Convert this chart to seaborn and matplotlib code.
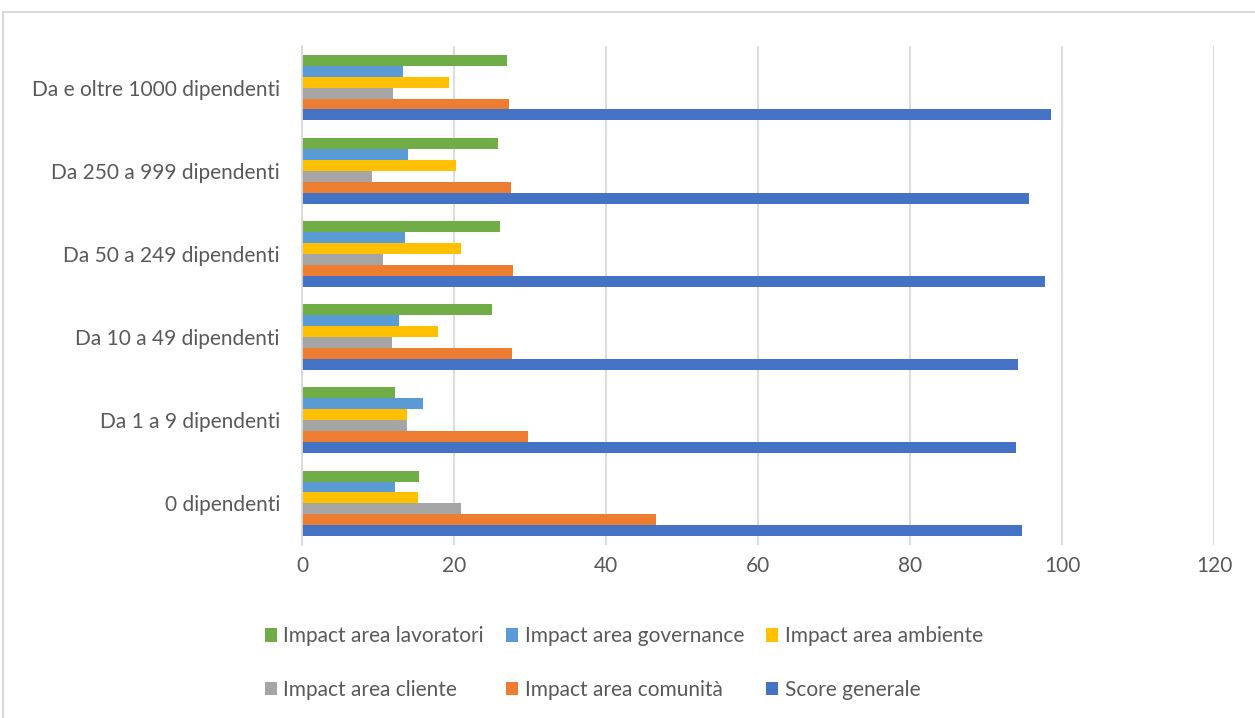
import matplotlib
matplotlib.use("Agg")
import matplotlib.pyplot as plt
import matplotlib.patches as mpatches
import seaborn as sns
import pandas as pd

categories = [
    "Da e oltre 1000 dipendenti",
    "Da 250 a 999 dipendenti",
    "Da 50 a 249 dipendenti",
    "Da 10 a 49 dipendenti",
    "Da 1 a 9 dipendenti",
    "0 dipendenti",
]
series_names = [
    "Impact area lavoratori",
    "Impact area governance",
    "Impact area ambiente",
    "Impact area cliente",
    "Impact area comunità",
    "Score generale",
]
lavoratori = [27.0, 25.8, 26.0, 25.0, 12.2, 15.4]
governance = [13.3, 14.0, 13.5, 12.8, 15.9, 12.2]
ambiente = [19.4, 20.2, 20.9, 17.9, 13.8, 15.2]
cliente = [12.0, 9.2, 10.6, 11.8, 13.8, 20.9]
comunita = [27.3, 27.5, 27.8, 27.6, 29.7, 46.6]
score_generale = [98.5, 95.6, 97.7, 94.2, 93.9, 94.8]
x_ticks = [0, 20, 40, 60, 80, 100, 120]

colors = ["#70AD47", "#5B9BD5", "#FFC000", "#A5A5A5", "#ED7D31", "#4472C4"]
text_color = "#595959"

sns.set_theme(style="white")
plt.rcParams["font.family"] = ["Lato", "DejaVu Sans"]

rows = []
for name, vals in zip(series_names,
                      [lavoratori, governance, ambiente, cliente, comunita, score_generale]):
    for cat, v in zip(categories, vals):
        rows.append({"categoria": cat, "serie": name, "valore": v})
df = pd.DataFrame(rows)

fig = plt.figure(figsize=(12.55, 7.18), dpi=100)
ax = fig.add_axes([302 / 1255, 1 - 545 / 718, (1214 - 302) / 1255, (545 - 46) / 718])

sns.barplot(
    data=df, y="categoria", x="valore", hue="serie",
    order=categories, hue_order=series_names, palette=colors,
    orient="h", width=0.79, gap=0, saturation=1, dodge=True,
    edgecolor="none", linewidth=0, ax=ax, legend=False,
)

ax.set_xlim(0, 120)
ax.set_xticks(x_ticks)
ax.set_xticklabels([str(t) for t in x_ticks])
ax.set_xlabel("")
ax.set_ylabel("")
ax.xaxis.grid(True, color="#D9D9D9", linewidth=1.3)
ax.yaxis.grid(False)
ax.set_axisbelow(True)
for side in ["top", "right", "bottom"]:
    ax.spines[side].set_visible(False)
ax.spines["left"].set_color("#D9D9D9")
ax.spines["left"].set_linewidth(1.3)
ax.tick_params(axis="both", length=0, colors=text_color, labelsize=15)
ax.tick_params(axis="y", pad=16)
ax.tick_params(axis="x", pad=8)

# legend laid out row by row in three columns
order = [0, 3, 1, 4, 2, 5]
handles = [mpatches.Patch(facecolor=colors[i], edgecolor="none") for i in order]
labels = [series_names[i] for i in order]
leg = fig.legend(
    handles, labels, ncol=3, loc="center left",
    bbox_to_anchor=(246 / 1255, 1 - 663 / 718), frameon=False,
    fontsize=15, handlelength=0.6, handleheight=0.6, handletextpad=0.3,
    columnspacing=1.05, labelspacing=1.6,
)
for t in leg.get_texts():
    t.set_color(text_color)

# chart frame
fig.patches.append(mpatches.Rectangle(
    (3 / 1255, -0.01), 1.0, 1 - 12 / 718 + 0.01, transform=fig.transFigure,
    fill=False, edgecolor="#D9D9D9", linewidth=1.5))

fig.savefig("out.png", dpi=100, facecolor="white")
